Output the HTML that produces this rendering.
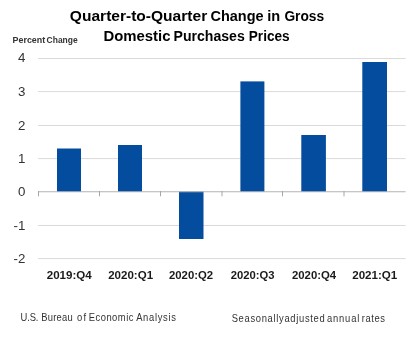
<!DOCTYPE html>
<html><head><meta charset="utf-8">
<style>
html,body{margin:0;padding:0;background:#fff;width:410px;height:337px;overflow:hidden;}
svg{display:block;will-change:transform;}
text{font-family:"Liberation Sans",sans-serif;}
</style></head>
<body>
<svg width="410" height="337" viewBox="0 0 410 337">
<rect x="0" y="0" width="410" height="337" fill="#fff"/>
<g stroke="#dadada" stroke-width="1">
<line x1="38" y1="58.5" x2="405.6" y2="58.5"/>
<line x1="38" y1="91.6" x2="405.6" y2="91.6"/>
<line x1="38" y1="125.5" x2="405.6" y2="125.5"/>
<line x1="38" y1="158.6" x2="405.6" y2="158.6"/>
<line x1="38" y1="225.5" x2="405.6" y2="225.5"/>
<line x1="38" y1="258.6" x2="405.6" y2="258.6"/>
</g>
<g fill="#044c9e">
<rect x="57" y="148.5" width="24" height="43.3"/>
<rect x="118" y="145" width="24" height="46.8"/>
<rect x="179" y="191.5" width="24.5" height="47.5"/>
<rect x="240.4" y="81.4" width="24" height="110.4"/>
<rect x="301.3" y="135" width="24.6" height="56.8"/>
<rect x="362.3" y="62" width="24.7" height="129.8"/>
</g>
<line x1="38" y1="191.7" x2="405.6" y2="191.7" stroke="#b3b3b3" stroke-width="1.1"/>
<g stroke="#a6a6a6" stroke-width="1">
<line x1="38.5" y1="191" x2="38.5" y2="196.3"/>
<line x1="99.5" y1="191" x2="99.5" y2="196.3"/>
<line x1="160.5" y1="191" x2="160.5" y2="196.3"/>
<line x1="222" y1="191" x2="222" y2="196.3"/>
<line x1="282.5" y1="191" x2="282.5" y2="196.3"/>
<line x1="344" y1="191" x2="344" y2="196.3"/>
</g>
<g font-size="13.3" fill="#333" text-anchor="end">
<text x="25.3" y="62.2">4</text>
<text x="25.3" y="96">3</text>
<text x="25.3" y="129.5">2</text>
<text x="25.3" y="162.9">1</text>
<text x="25.3" y="196.3">0</text>
<text x="25.3" y="229.9">-1</text>
<text x="25.3" y="263.4">-2</text>
</g>
<text id="t1" x="69.89" y="20.5" font-size="14" font-weight="bold" fill="#000" textLength="137.31" lengthAdjust="spacingAndGlyphs">Quarter-to-Quarter</text>
<text id="t2" x="210.50" y="20.5" font-size="14" font-weight="bold" fill="#000" textLength="53.08" lengthAdjust="spacingAndGlyphs">Change</text>
<text id="t3" x="267.30" y="20.5" font-size="14" font-weight="bold" fill="#000" textLength="12.96" lengthAdjust="spacingAndGlyphs">in</text>
<text id="t4" x="284.42" y="20.5" font-size="14" font-weight="bold" fill="#000" textLength="39.74" lengthAdjust="spacingAndGlyphs">Gross</text>
<text id="t5" x="103.48" y="40.5" font-size="14" font-weight="bold" fill="#000" textLength="67.04" lengthAdjust="spacingAndGlyphs">Domestic</text>
<text id="t6" x="173.49" y="40.5" font-size="14" font-weight="bold" fill="#000" textLength="71.23" lengthAdjust="spacingAndGlyphs">Purchases</text>
<text id="t7" x="248.79" y="40.5" font-size="14" font-weight="bold" fill="#000" textLength="40.89" lengthAdjust="spacingAndGlyphs">Prices</text>
<text id="p1" x="12.55" y="42.8" font-size="9.8" font-weight="bold" fill="#333" textLength="32.70" lengthAdjust="spacingAndGlyphs">Percent</text>
<text id="p2" x="46.60" y="42.8" font-size="9.8" font-weight="bold" fill="#333" textLength="31.07" lengthAdjust="spacingAndGlyphs">Change</text>
<text id="x1" x="46.74" y="278.8" font-size="10.5" font-weight="bold" fill="#1a1a1a" textLength="45.01" lengthAdjust="spacingAndGlyphs">2019:Q4</text>
<text id="x2" x="108.21" y="278.8" font-size="10.5" font-weight="bold" fill="#1a1a1a" textLength="44.86" lengthAdjust="spacingAndGlyphs">2020:Q1</text>
<text id="x3" x="169.03" y="278.8" font-size="10.5" font-weight="bold" fill="#1a1a1a" textLength="44.13" lengthAdjust="spacingAndGlyphs">2020:Q2</text>
<text id="x4" x="230.67" y="278.8" font-size="10.5" font-weight="bold" fill="#1a1a1a" textLength="43.84" lengthAdjust="spacingAndGlyphs">2020:Q3</text>
<text id="x5" x="291.95" y="278.8" font-size="10.5" font-weight="bold" fill="#1a1a1a" textLength="44.22" lengthAdjust="spacingAndGlyphs">2020:Q4</text>
<text id="x6" x="352.19" y="278.8" font-size="10.5" font-weight="bold" fill="#1a1a1a" textLength="45.13" lengthAdjust="spacingAndGlyphs">2021:Q1</text>
<text id="f1" transform="translate(20.57 321) scale(0.94 1)" x="0" y="0" font-size="10" font-weight="normal" fill="#333" textLength="19.03" lengthAdjust="spacing">U.S.</text>
<text id="f2" transform="translate(41.22 321) scale(0.94 1)" x="0" y="0" font-size="10" font-weight="normal" fill="#333" textLength="33.45" lengthAdjust="spacing">Bureau</text>
<text id="f3" transform="translate(76.93 321) scale(0.94 1)" x="0" y="0" font-size="10" font-weight="normal" fill="#333" textLength="9.71" lengthAdjust="spacing">of</text>
<text id="f4" transform="translate(88.66 321) scale(0.94 1)" x="0" y="0" font-size="10" font-weight="normal" fill="#333" textLength="47.70" lengthAdjust="spacing">Economic</text>
<text id="f5" transform="translate(136.17 321) scale(0.94 1)" x="0" y="0" font-size="10" font-weight="normal" fill="#333" textLength="42.29" lengthAdjust="spacing">Analysis</text>
<text id="g1" transform="translate(231.63 321.5) scale(0.94 1)" x="0" y="0" font-size="10" font-weight="normal" fill="#333" textLength="55.44" lengthAdjust="spacing">Seasonally</text>
<text id="g2" transform="translate(284.45 321.5) scale(0.94 1)" x="0" y="0" font-size="10" font-weight="normal" fill="#333" textLength="42.81" lengthAdjust="spacing">adjusted</text>
<text id="g3" transform="translate(326.93 321.5) scale(0.94 1)" x="0" y="0" font-size="10" font-weight="normal" fill="#333" textLength="34.48" lengthAdjust="spacing">annual</text>
<text id="g4" transform="translate(361.67 321.5) scale(0.94 1)" x="0" y="0" font-size="10" font-weight="normal" fill="#333" textLength="24.80" lengthAdjust="spacing">rates</text>
</svg>
</body></html>
